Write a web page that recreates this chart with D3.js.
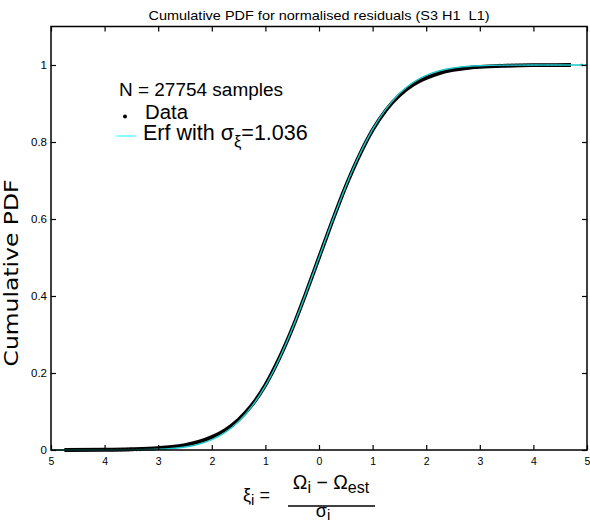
<!DOCTYPE html>
<html>
<head>
<meta charset="utf-8">
<script src="https://cdn.jsdelivr.net/npm/d3@7"></script>
<style>
  body { margin: 0; background: #fff; }
  text { font-family: "Liberation Sans", Arial, sans-serif; fill: #000; white-space: pre; }
</style>
</head>
<body>
<script>
// values
let title = "Cumulative PDF for normalised residuals (S3 H1  L1)"
let xTicks = [-5, -4, -3, -2, -1, 0, 1, 2, 3, 4, 5]
let xTickLabels = ["5", "4", "3", "2", "1", "0", "1", "2", "3", "4", "5"]
let yTicks = [0, 0.2, 0.4, 0.6, 0.8, 1]
let yTickLabels = ["0", "0.2", "0.4", "0.6", "0.8", "1"]

// empirical cumulative distribution (black dots)
let dataX = [-4.75, -4, -3.5, -3, -2.75, -2.5, -2.25, -2, -1.75, -1.5, -1.25, -1, -0.75, -0.5, -0.25, 0,
             0.25, 0.5, 0.75, 1, 1.25, 1.5, 1.75, 2, 2.25, 2.5, 2.75, 3, 3.5, 4, 4.7]
let dataY = [0, 0.0006, 0.002, 0.005, 0.008, 0.013, 0.021, 0.034, 0.052, 0.079, 0.117, 0.169, 0.236, 0.315, 0.405, 0.5,
             0.595, 0.685, 0.764, 0.831, 0.883, 0.921, 0.948, 0.966, 0.979, 0.987, 0.992, 0.995, 0.998, 0.9995, 1]
// isolated samples in the tails
let lowTailX = [-4.71, -3.96, -3.87, -3.77, -3.7, -3.62, -3.55, -3.47, -3.4, -3.34]
let highTailX = [3.37, 3.45, 3.52, 3.6, 3.68, 3.75, 3.83, 3.9, 3.97, 4.05, 4.27, 4.35, 4.42, 4.5, 4.9]

// fitted erf, sigma = 1.036 (cyan)
let fitX = [-5, -4, -3.5, -3, -2.75, -2.5, -2.25, -2, -1.75, -1.5, -1.25, -1, -0.75, -0.5, -0.25, 0,
            0.25, 0.5, 0.75, 1, 1.25, 1.5, 1.75, 2, 2.25, 2.5, 2.75, 3, 3.5, 4, 5]
let fitY = [0, 0.0001, 0.0004, 0.0019, 0.004, 0.0079, 0.015, 0.0268, 0.0456, 0.0738, 0.1138, 0.1672, 0.2346, 0.3147, 0.4047, 0.5,
            0.5953, 0.6853, 0.7654, 0.8328, 0.8862, 0.9262, 0.9544, 0.9732, 0.985, 0.9921, 0.996, 0.9981, 0.9996, 0.9999, 1]

let nSamples = 27754
let sigma = "1.036"

draw()

function draw() {
    let w = 590
    let h = 522
    let m = {l: 51, r: 3, t: 26.5, b: 72}
    let svg = d3.select("body").append("svg")
        .attr("width", w)
        .attr("height", h)

    let x = d3.scaleLinear().domain([-5, 5]).range([m.l, w - m.r])
    let y = d3.scaleLinear().domain([0, 1.1]).range([h - m.b, m.t])

    // data: dense dots look like a thick black line
    let line = d3.line().x((d, i) => x(dataX[i])).y((d, i) => y(dataY[i])).curve(d3.curveMonotoneX)
    svg.append("path")
        .attr("d", line(dataX))
        .attr("fill", "none")
        .attr("stroke", "#000")
        .attr("stroke-width", 3.8)
    svg.append("g").selectAll("circle.low")
        .data(lowTailX)
        .enter()
        .append("circle")
            .attr("cx", d => x(d))
            .attr("cy", y(0.0002))
            .attr("r", 1.3)
            .attr("fill", "#222")
    svg.append("g").selectAll("circle.high")
        .data(highTailX)
        .enter()
        .append("circle")
            .attr("cx", d => x(d))
            .attr("cy", y(0.9999))
            .attr("r", 1.3)
            .attr("fill", "#222")

    let fit = d3.line().x((d, i) => x(fitX[i])).y((d, i) => y(fitY[i])).curve(d3.curveMonotoneX)
    svg.append("path")
        .attr("d", fit(fitX))
        .attr("fill", "none")
        .attr("stroke", "#1cc8c8")
        .attr("stroke-width", 1.4)

    // frame + inward ticks
    svg.append("rect")
        .attr("x", x(-5)).attr("y", y(1.1))
        .attr("width", x(5) - x(-5)).attr("height", y(0) - y(1.1))
        .attr("fill", "none").attr("stroke", "#000").attr("stroke-width", 1.5)

    let tl = 5
    let bottom = svg.append("g").attr("transform", `translate(0,${y(0)})`)
        .call(d3.axisBottom(x).tickValues(xTicks).tickSize(-tl).tickPadding(8)
            .tickFormat((d, i) => xTickLabels[i]))
    let top = svg.append("g").attr("transform", `translate(0,${y(1.1)})`)
        .call(d3.axisTop(x).tickValues(xTicks).tickSize(-tl).tickFormat(""))
    let left = svg.append("g").attr("transform", `translate(${x(-5)},0)`)
        .call(d3.axisLeft(y).tickValues(yTicks).tickSize(-tl).tickPadding(4)
            .tickFormat((d, i) => yTickLabels[i]))
    let right = svg.append("g").attr("transform", `translate(${x(5)},0)`)
        .call(d3.axisRight(y).tickValues(yTicks).tickSize(-tl).tickFormat(""))
    ;[bottom, top, left, right].forEach(a => {
        a.select(".domain").remove()
        a.selectAll(".tick line").attr("stroke", "#000").attr("stroke-width", 1.2)
        a.selectAll("text").style("font-size", "10.5px").style("font-family", "'Liberation Sans', Arial, sans-serif")
    })
    left.selectAll("text").style("font-size", "11.5px")

    // title
    svg.append("text")
        .attr("x", (x(-5) + x(5)) / 2)
        .attr("y", 19.5)
        .attr("text-anchor", "middle")
        .attr("textLength", 341)
        .attr("lengthAdjust", "spacingAndGlyphs")
        .style("font-size", "13px")
        .text(title)

    // y label
    svg.append("text")
        .attr("transform", `translate(17.5,${273}) rotate(-90)`)
        .attr("text-anchor", "middle")
        .attr("textLength", 187)
        .attr("lengthAdjust", "spacingAndGlyphs")
        .style("font-family", "'DejaVu Sans', sans-serif")
        .style("font-size", "19px")
        .text("Cumulative PDF")

    // legend
    svg.append("text").attr("x", 119).attr("y", 96).style("font-size", "18px")
        .attr("textLength", 164).attr("lengthAdjust", "spacingAndGlyphs")
        .text(`N = ${nSamples} samples`)
    svg.append("circle").attr("cx", 125).attr("cy", 116.5).attr("r", 2).attr("fill", "#000")
    svg.append("text").attr("x", 145).attr("y", 119).style("font-size", "20px")
        .attr("textLength", 43).attr("lengthAdjust", "spacingAndGlyphs")
        .text("Data")
    svg.append("line").attr("x1", 116).attr("x2", 136).attr("y1", 136).attr("y2", 136)
        .attr("stroke", "#66ffff").attr("stroke-width", 1.5)
    let erf = svg.append("text").attr("x", 143).attr("y", 140).style("font-size", "21.5px")
    erf.append("tspan").text("Erf with σ")
    erf.append("tspan").attr("dy", 7).style("font-size", "16.5px").text("ξ")
    erf.append("tspan").attr("dy", -7).text("=" + sigma)

    // x label: xi_i = (Omega_i - Omega_est) / sigma_i
    let xl = svg.append("text").attr("x", 243).attr("y", 501).style("font-size", "18px")
    xl.append("tspan").text("ξ")
    xl.append("tspan").attr("dy", 4).style("font-size", "15px").text("i")
    xl.append("tspan").attr("dy", -4).text(" =")
    let num = svg.append("text").attr("x", 331).attr("y", 489).attr("text-anchor", "middle").style("font-size", "19.5px")
    num.append("tspan").text("Ω")
    num.append("tspan").attr("dy", 4).style("font-size", "16px").text("i")
    num.append("tspan").attr("dy", -4).text(" − Ω")
    num.append("tspan").attr("dy", 4).style("font-size", "16px").text("est")
    svg.append("line").attr("x1", 288).attr("x2", 375).attr("y1", 506).attr("y2", 506)
        .attr("stroke", "#000").attr("stroke-width", 1.5)
    let den = svg.append("text").attr("x", 323).attr("y", 517).attr("text-anchor", "middle").style("font-size", "18px")
    den.append("tspan").text("σ")
    den.append("tspan").attr("dy", 3).style("font-size", "15px").text("i")
}
</script>
</body>
</html>
